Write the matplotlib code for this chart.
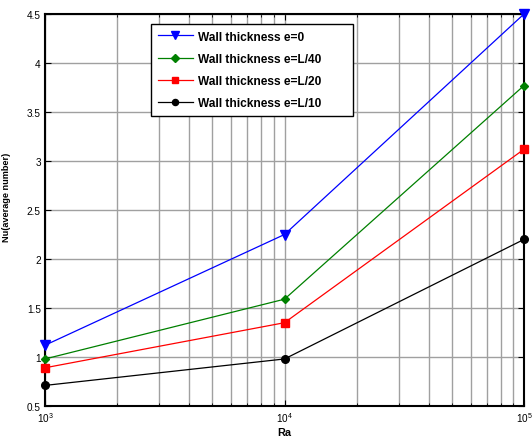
import matplotlib
matplotlib.use("Agg")
import matplotlib.pyplot as plt

plt.rcParams['font.family'] = ['Liberation Sans', 'DejaVu Sans']

# data
ra = [1e3, 1e4, 1e5]
nu_e0 = [1.12, 2.25, 4.50]
nu_l40 = [0.98, 1.59, 3.77]
nu_l20 = [0.89, 1.35, 3.12]
nu_l10 = [0.71, 0.98, 2.20]
labels = ["Wall thickness e=0", "Wall thickness e=L/40",
          "Wall thickness e=L/20", "Wall thickness e=L/10"]
yticks = [0.5, 1, 1.5, 2, 2.5, 3, 3.5, 4, 4.5]

fig = plt.figure(figsize=(5.32, 4.39), dpi=100)
ax = fig.add_axes([45 / 532, 1 - 407 / 439, 479 / 532, 392 / 439])

ax.plot(ra, nu_e0, color="blue", marker="v", ms=6.5, lw=0.9, label=labels[0])
ax.plot(ra, nu_l40, color="green", marker="D", ms=4.5, lw=0.9, label=labels[1])
ax.plot(ra, nu_l20, color="red", marker="s", ms=6, lw=0.9, label=labels[2])
ax.plot(ra, nu_l10, color="black", marker="o", ms=5.5, lw=0.9, label=labels[3])
for l in ax.lines:
    l.set_clip_on(False)
    l.set_zorder(5)

ax.set_xscale("log")
ax.set_xlim(1e3, 1e5)
ax.set_ylim(0.5, 4.5)
ax.set_yticks(yticks)
ax.set_yticklabels([f"{v:g}" for v in yticks])
ax.grid(True, which="major", color="#a0a0a0", lw=1.0)
ax.grid(True, which="minor", axis="x", color="#a0a0a0", lw=1.0)
ax.set_axisbelow(True)

ax.tick_params(which="both", direction="in", top=True, right=True, labelsize=7.2)
ax.tick_params(which="major", length=4, pad=3)
ax.tick_params(which="minor", length=2.5)
for s in ax.spines.values():
    s.set_linewidth(1.5)

ax.set_xlabel("Ra", fontsize=7.8, fontweight="bold", labelpad=2)
ax.set_ylabel("Nu(average number)", fontsize=6.6, fontweight="bold")
ax.yaxis.set_label_coords(-0.072, 0.536)

leg = ax.legend(loc="upper left", bbox_to_anchor=(0.2213, 0.742, 0.4217, 0.2325),
                mode="expand", borderaxespad=0,
                prop={"weight": "bold", "size": 8.6}, fancybox=False,
                edgecolor="black", framealpha=1, handlelength=3.0,
                handletextpad=0.4, borderpad=0.55, labelspacing=0.85,
                markerscale=0.8)
leg.get_frame().set_linewidth(1.0)

fig.savefig("out.png", dpi=100)
